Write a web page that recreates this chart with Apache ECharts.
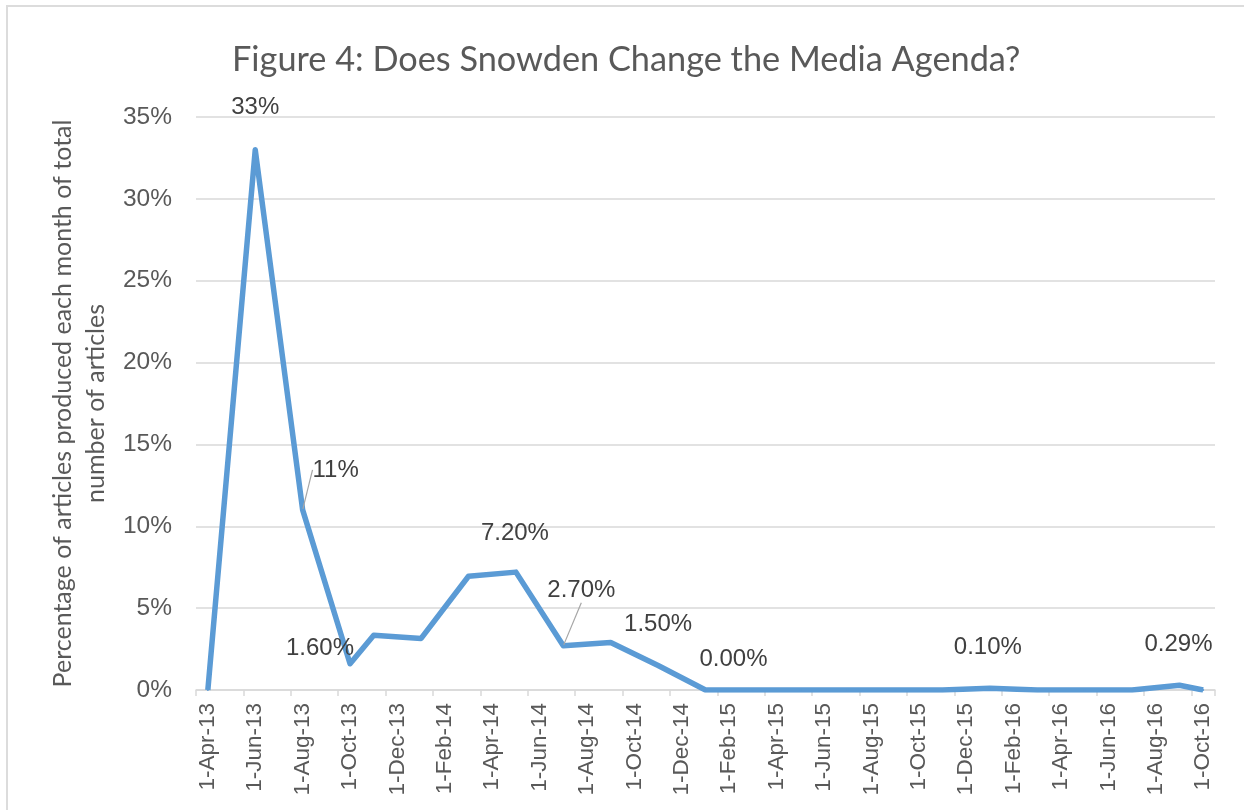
<!DOCTYPE html>
<html>
<head>
<meta charset="utf-8">
<script src="https://cdn.jsdelivr.net/npm/echarts@6/dist/echarts.min.js"></script>
<style>
  html, body { margin: 0; padding: 0; background: #fff; overflow: hidden; }
  #chart { width: 1244px; height: 810px; }
  #frame { position: absolute; left: 6px; top: 5px; width: 1400px; height: 1000px;
           border: 2px solid #dcdcdc; pointer-events: none; }
</style>
</head>
<body>
<div id="chart"></div>
<div id="frame"></div>
<script>
// Monthly categories (1st of each month), Apr-2013 .. Oct-2016
const months = [
  '1-Apr-13','1-May-13','1-Jun-13','1-Jul-13','1-Aug-13','1-Sep-13','1-Oct-13','1-Nov-13','1-Dec-13',
  '1-Jan-14','1-Feb-14','1-Mar-14','1-Apr-14','1-May-14','1-Jun-14','1-Jul-14','1-Aug-14','1-Sep-14','1-Oct-14','1-Nov-14','1-Dec-14',
  '1-Jan-15','1-Feb-15','1-Mar-15','1-Apr-15','1-May-15','1-Jun-15','1-Jul-15','1-Aug-15','1-Sep-15','1-Oct-15','1-Nov-15','1-Dec-15',
  '1-Jan-16','1-Feb-16','1-Mar-16','1-Apr-16','1-May-16','1-Jun-16','1-Jul-16','1-Aug-16','1-Sep-16','1-Oct-16'
];

// Share of articles (%) per observed month; null = no observation that month
const shareValues = [
  0, null, 33, null, 11, null, 1.6, 3.35, null,
  3.15, null, 6.95, null, 7.2, null, 2.7, null, 2.9, null, 1.5, null,
  0, null, 0, null, 0, null, 0, null, 0, null, 0, null,
  0.1, null, 0, null, 0, null, 0, null, 0.29, 0
];

// Data label texts as printed on the chart
const labelTexts = [
  '', '', '33%', '', '11%', '', '1.60%', '', '',
  '', '', '', '', '7.20%', '', '2.70%', '', '', '', '1.50%', '',
  '0.00%', '', '', '', '', '', '', '', '', '', '', '',
  '0.10%', '', '', '', '', '', '', '', '0.29%', ''
];

const yTicks = [0, 5, 10, 15, 20, 25, 30, 35];

// label placement (style, not data)
const labelShift = {
  2: [0, -42], 4: [33, -40], 6: [-30, -15], 13: [-1, -39], 15: [18, -55],
  19: [0, -41], 21: [28, -31], 33: [-2, -41], 41: [-1, -41]
};
const leaderIdx = { 4: true, 15: true };

const seriesData = shareValues.map((v, i) => {
  if (v === null) return null;
  const item = { value: v };
  if (leaderIdx[i]) item.labelLine = { show: true, lineStyle: { color: '#a6a6a6', width: 1.2 } };
  return item;
});

const chart = echarts.init(document.getElementById('chart'));
chart.setOption({
  animation: false,
  backgroundColor: '#fff',
  title: {
    text: 'Figure 4: Does Snowden Change the Media Agenda?',
    left: 227,
    top: 38,
    textStyle: { fontFamily: 'Lato', fontWeight: 'normal', fontSize: 34.3, color: '#595959' }
  },
  grid: { left: 196, right: 29, top: 117, bottom: 120, outerBoundsMode: 'none' },
  xAxis: {
    type: 'category',
    data: months,
    boundaryGap: true,
    axisLine: { lineStyle: { color: '#d9d9d9', width: 1.5 } },
    axisTick: { show: true, interval: 1, length: 6, lineStyle: { color: '#d9d9d9', width: 1.5 } },
    axisLabel: {
      interval: 1, rotate: 90, margin: 13,
      fontFamily: 'Liberation Sans', fontSize: 22.5, color: '#595959'
    },
    splitLine: { show: false }
  },
  yAxis: {
    type: 'value',
    min: yTicks[0],
    max: yTicks[yTicks.length - 1],
    interval: 5,
    name: 'Percentage of articles produced each month of total\nnumber of articles',
    nameLocation: 'middle',
    nameRotate: 90,
    nameGap: 82,
    nameTextStyle: { fontFamily: 'Lato', fontSize: 25, color: '#595959', lineHeight: 33 },
    axisLine: { show: false },
    axisTick: { show: false },
    axisLabel: {
      formatter: '{value}%', margin: 24,
      fontFamily: 'Liberation Sans', fontSize: 24.5, color: '#595959'
    },
    splitLine: { lineStyle: { color: '#d9d9d9', width: 1.5 } }
  },
  series: [{
    type: 'line',
    data: seriesData,
    connectNulls: true,
    showSymbol: true,
    symbol: 'circle',
    symbolSize: 2,
    itemStyle: { color: '#5B9BD5' },
    lineStyle: { color: '#5B9BD5', width: 5.5, join: 'round' },
    label: {
      show: true,
      position: 'inside',
      fontFamily: 'Liberation Sans',
      fontSize: 24,
      color: '#404040',
      formatter: p => labelTexts[p.dataIndex] || ''
    },
    labelLayout: p => {
      const s = labelShift[p.dataIndex];
      return s ? { dx: s[0], dy: s[1] } : {};
    }
  }]
});
</script>
</body>
</html>
